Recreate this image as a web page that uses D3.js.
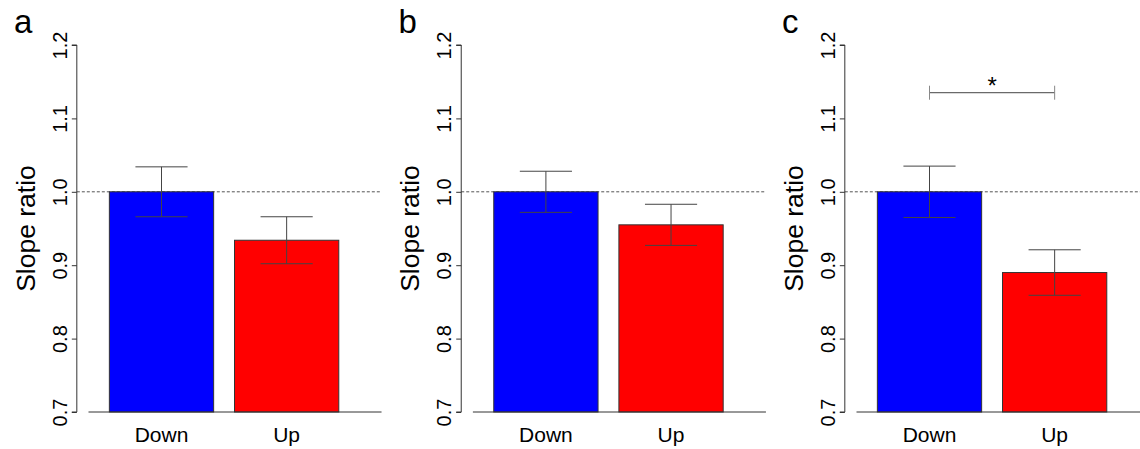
<!DOCTYPE html>
<html>
<head>
<meta charset="utf-8">
<script src="https://cdn.jsdelivr.net/npm/d3@7"></script>
<style>
  body { margin: 0; background: #fff; }
  text { font-family: "Liberation Sans", Arial, sans-serif; fill: #000; }
</style>
</head>
<body>
<div id="chart"></div>
<script>
var width = 1140,
    height = 449;

// data
var panels = ["a", "b", "c"];
var categories = ["Down", "Up"];
var colors = ["#0000ff", "#ff0000"];
var meansA = [1.0, 0.934];
var meansB = [1.0, 0.955];
var meansC = [1.0, 0.890];
var errA = [0.034, 0.032];
var errB = [0.028, 0.028];
var errC = [0.035, 0.031];
var yTicks = [0.7, 0.8, 0.9, 1.0, 1.1, 1.2];
var refLine = 1.0;
// significance bracket only in panel c
var sigPanel = "c", sigLevel = 1.135, sigLabel = "*";

var means = [meansA, meansB, meansC];
var errs = [errA, errB, errC];
var offsets = [0, 384.4, 768];

var svg = d3.select("#chart").append("svg")
    .attr("width", width)
    .attr("height", height);

var y = d3.scaleLinear().domain([0.7, 1.2]).range([412, 45]);

panels.forEach(function(p, i) {
  var g = svg.append("g").attr("transform", "translate(" + offsets[i] + ",0)");

  // barplot units: bars at 0.2-1.2 and 1.4-2.4
  var x = d3.scaleLinear().domain([0, 2.8]).range([88.5, 380.5]);
  var axisX = x(-0.112);

  var data = categories.map(function(c, j) {
    return {cat: c, v: means[i][j], e: errs[i][j], x0: 0.2 + j * 1.2, col: colors[j]};
  });

  // reference dashed line
  g.append("line")
    .attr("x1", axisX).attr("x2", x(2.8))
    .attr("y1", y(refLine)).attr("y2", y(refLine))
    .attr("stroke", "#555").attr("stroke-width", 1)
    .attr("stroke-dasharray", "3,2");

  // bars
  g.selectAll("rect.bar").data(data).enter().append("rect")
    .attr("class", "bar")
    .attr("x", function(d) { return x(d.x0); })
    .attr("width", function(d) { return x(d.x0 + 1) - x(d.x0); })
    .attr("y", function(d) { return y(d.v); })
    .attr("height", function(d) { return y(0.7) - y(d.v); })
    .attr("fill", function(d) { return d.col; })
    .attr("stroke", "#333")
    .attr("stroke-width", 1);

  // error bars
  var eb = g.selectAll("g.err").data(data).enter().append("g").attr("class", "err");
  eb.append("line")
    .attr("x1", function(d) { return x(d.x0 + 0.5); })
    .attr("x2", function(d) { return x(d.x0 + 0.5); })
    .attr("y1", function(d) { return y(d.v + d.e); })
    .attr("y2", function(d) { return y(d.v - d.e); })
    .attr("stroke", "#444");
  [1, -1].forEach(function(s) {
    eb.append("line")
      .attr("x1", function(d) { return x(d.x0 + 0.25); })
      .attr("x2", function(d) { return x(d.x0 + 0.75); })
      .attr("y1", function(d) { return y(d.v + s * d.e); })
      .attr("y2", function(d) { return y(d.v + s * d.e); })
      .attr("stroke", "#444");
  });

  // bottom line
  g.append("line")
    .attr("x1", x(0)).attr("x2", x(2.81))
    .attr("y1", y(0.7)).attr("y2", y(0.7))
    .attr("stroke", "#333");

  // y axis
  var yAxis = d3.axisLeft(y).tickValues(yTicks).tickSize(5).tickFormat(d3.format(".1f"));
  var ya = g.append("g").attr("transform", "translate(" + axisX + ",0)").call(yAxis);
  ya.select(".domain").attr("stroke", "#333").attr("d", "M-5," + y(0.7) + "H0V" + y(1.2) + "H-5");
  ya.selectAll(".tick line").attr("stroke", "#333");
  ya.selectAll(".tick text")
    .attr("x", null).attr("dy", null)
    .attr("transform", "translate(-10,0) rotate(-90)")
    .attr("text-anchor", "middle")
    .style("font-size", "20px")
    .style("font-family", "Liberation Sans, Arial, sans-serif")
    .attr("fill", "#000");

  // x labels
  g.selectAll("text.xl").data(data).enter().append("text")
    .attr("class", "xl")
    .attr("x", function(d) { return x(d.x0 + 0.5); })
    .attr("y", 442)
    .attr("text-anchor", "middle")
    .style("font-size", "21px")
    .text(function(d) { return d.cat; });

  // y label
  g.append("text")
    .attr("transform", "translate(35," + (y(0.95)) + ") rotate(-90)")
    .attr("text-anchor", "middle")
    .style("font-size", "26.5px")
    .text("Slope ratio");

  // panel letter
  g.append("text")
    .attr("x", 14).attr("y", 33)
    .style("font-size", "33px")
    .text(p);

  if (p === sigPanel) {
    var xa = x(data[0].x0 + 0.5), xb = x(data[1].x0 + 0.5);
    g.append("line")
      .attr("x1", xa).attr("x2", xb)
      .attr("y1", y(sigLevel)).attr("y2", y(sigLevel))
      .attr("stroke", "#444");
    [xa, xb].forEach(function(xx) {
      g.append("line")
        .attr("x1", xx).attr("x2", xx)
        .attr("y1", y(sigLevel) - 7).attr("y2", y(sigLevel) + 7)
        .attr("stroke", "#888");
    });
    g.append("text")
      .attr("x", (xa + xb) / 2).attr("y", y(sigLevel) + 1)
      .attr("text-anchor", "middle")
      .style("font-size", "24px")
      .text(sigLabel);
  }
});
</script>
</body>
</html>
